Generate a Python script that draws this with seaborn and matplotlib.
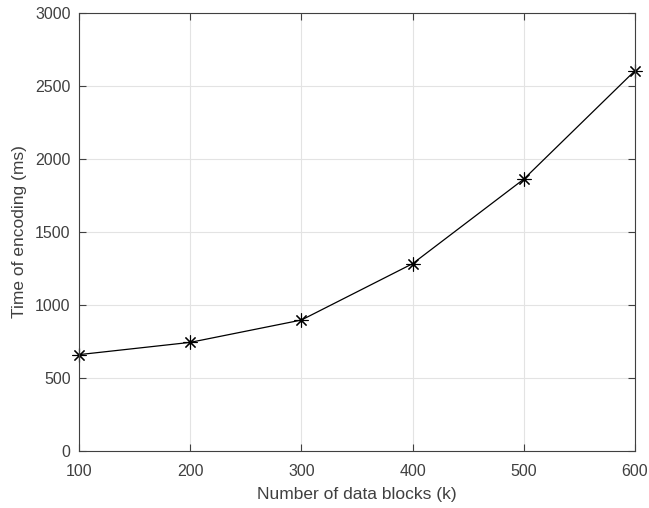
import matplotlib
matplotlib.use("Agg")
import matplotlib.pyplot as plt
import seaborn as sns
import pandas as pd

blocks = [100, 200, 300, 400, 500, 600]
enc_time = [660, 744, 897, 1283, 1862, 2605]
xticks = [100, 200, 300, 400, 500, 600]
yticks = [0, 500, 1000, 1500, 2000, 2500, 3000]

sns.set_theme(style="white")
plt.rcParams['font.family'] = ['Liberation Sans', 'DejaVu Sans']

df = pd.DataFrame({"blocks": blocks, "time": enc_time})

fig = plt.figure(figsize=(6.49, 5.08), dpi=100)
ax = fig.add_axes([79 / 649, 1 - 451 / 508, (635 - 79) / 649, (451 - 13) / 508])
sns.lineplot(data=df, x="blocks", y="time", ax=ax, color="black", linewidth=0.9,
             marker=(8, 2, 0), markersize=10, markeredgewidth=0.8,
             markeredgecolor="black", clip_on=False)
ax.set_xlim(100, 600)
ax.set_ylim(0, 3000)
ax.set_xticks(xticks)
ax.set_yticks(yticks)
ax.grid(True, color="#e3e3e3", linewidth=0.8)
ax.set_axisbelow(True)
for s in ax.spines.values():
    s.set_color("#404040")
    s.set_linewidth(0.8)
ax.tick_params(direction="in", length=5, width=0.8, colors="#404040",
               labelsize=11.5, top=True, right=True, bottom=True, left=True,
               labelcolor="#404040")
ax.tick_params(axis="x", pad=9)
ax.tick_params(axis="y", pad=6)
ax.set_xlabel("Number of data blocks (k)", fontsize=12.5, color="#404040", labelpad=6)
ax.set_ylabel("Time of encoding (ms)", fontsize=12.5, color="#404040", labelpad=6)
fig.savefig("out.png", dpi=100)
